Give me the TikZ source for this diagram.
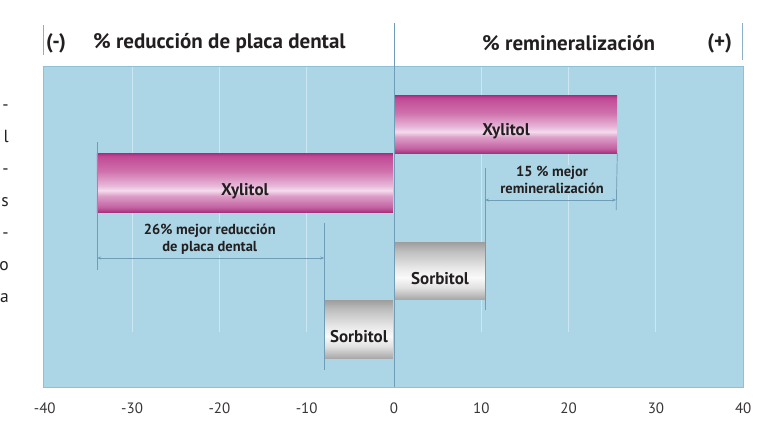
\documentclass[tikz,border=0pt]{standalone}
\usepackage{fontspec}
\setmainfont{PT Sans}
\usetikzlibrary{arrows.meta, positioning, calc}
\definecolor{chartblue}{HTML}{ACD5E6}
\definecolor{chartedge}{HTML}{8EC0D8}
\definecolor{gridwhite}{HTML}{CCE7F2}
\definecolor{axisblue}{HTML}{6F9CB6}
\definecolor{inkblack}{HTML}{231F20}
% magenta bar, bottom to top
\definecolor{xylA}{HTML}{A8307E}
\definecolor{xylB}{HTML}{C260A0}
\definecolor{xylC}{HTML}{DDA0C8}
\definecolor{xylD}{HTML}{F5DCEE}
\definecolor{xylE}{HTML}{E8B8DA}
\definecolor{xylF}{HTML}{CF70AC}
\definecolor{xylG}{HTML}{C04A95}
\definecolor{xylH}{HTML}{AE2A80}
% grey bar, bottom to top
\definecolor{sorbA}{HTML}{A8A8A8}
\definecolor{sorbB}{HTML}{E0E0E0}
\definecolor{sorbC}{HTML}{FAFAFA}
\definecolor{sorbD}{HTML}{E8E8E8}
\definecolor{sorbE}{HTML}{BDBDBD}
\definecolor{sorbF}{HTML}{9E9E9E}
\pgfdeclareverticalshading{xylshade}{100bp}{color(0bp)=(xylA); color(25bp)=(xylA); color(29bp)=(xylB); color(39bp)=(xylC); color(43.5bp)=(xylD); color(47.5bp)=(xylE); color(60bp)=(xylF); color(72.5bp)=(xylG); color(75bp)=(xylH); color(100bp)=(xylH)}
\pgfdeclareverticalshading{sorbshade}{100bp}{color(0bp)=(sorbA); color(25bp)=(sorbA); color(35bp)=(sorbB); color(44bp)=(sorbC); color(52.5bp)=(sorbD); color(67.5bp)=(sorbE); color(75bp)=(sorbF); color(100bp)=(sorbF)}

\begin{document}
\begin{tikzpicture}[
  x=8.73pt, y=-1pt,
  headtext/.style={text=inkblack, inner sep=0pt, font=\bfseries\fontsize{21}{24}\selectfont},
  xylbar/.style={rectangle, inner sep=0pt, draw=none, shading=xylshade},
  sorbbar/.style={rectangle, inner sep=0pt, draw=none, shading=sorbshade},
  barlbl/.style={text=inkblack, inner sep=0pt, font=\bfseries\fontsize{17}{19}\selectfont},
  dimlbl/.style={text=inkblack, fill=chartblue, inner sep=1pt, align=center, font=\bfseries\fontsize{14.5}{16.5}\selectfont},
  ticklabel/.style={text=inkblack!90, inner sep=0pt, font=\fontsize{15}{17}\selectfont},
  fragtext/.style={text=inkblack, inner sep=0pt, anchor=mid east, font=\fontsize{17.5}{20}\selectfont},
  gridline/.style={draw=gridwhite, line width=1pt},
  headline/.style={draw=axisblue!80, line width=0.8pt},
  dimline/.style={draw=axisblue, line width=0.7pt},
  dimarrow/.style={{Stealth[length=4pt,width=3pt]}-{Stealth[length=4pt,width=3pt]}, draw=axisblue, line width=0.6pt}
]
  \useasboundingbox (-45.13,0) rectangle (44.67,443);

  % Cut-off text at the left edge
  \foreach \txt [count=\i] in {-,l,-,s,-,o,a}
    \node[fragtext] (frag\i) at (-44.1,76+32*\i) {\txt};

  % Chart area and grid
  \fill[chartblue, draw=chartedge, line width=0.6pt] (-40.2,66) rectangle (40,387);
  \foreach \gx in {-30,-20,-10,10,20,30}
    \draw[gridline] (\gx,67) -- (\gx,332);

  % Header
  \draw[headline] (-40.2,25) -- (-40.2,55);
  \draw[headline] (39.9,23) -- (39.9,60);
  \node[headtext] (minuslbl) at (-38.7,43) {(-)};
  \node[headtext] (plaquelbl) at (-20,43) {\% reducción de placa dental};
  \node[headtext] (reminlbl) at (20,43) {\% remineralización};
  \node[headtext] (pluslbl) at (37.3,43) {(+)};

  % Bars
  \node[xylbar, anchor=north west, minimum width=222pt, minimum height=58pt] (xylpos) at (0.1,95) {};
  \node[xylbar, anchor=north east, minimum width=296pt, minimum height=59pt] (xylneg) at (-0.1,153) {};
  \node[sorbbar, anchor=north west, minimum width=90pt, minimum height=57pt] (sorbpos) at (0.1,242) {};
  \node[sorbbar, anchor=north east, minimum width=68pt, minimum height=58pt] (sorbneg) at (-0.1,300) {};
  \node[barlbl] (xylposlbl) at ([yshift=-7pt]xylpos.center) {Xylitol};
  \node[barlbl] (xylneglbl) at ([yshift=-8pt]xylneg.center) {Xylitol};
  \node[barlbl] (sorbposlbl) at ([yshift=-8pt]sorbpos.center) {Sorbitol};
  \node[barlbl] (sorbneglbl) at ([yshift=-7pt]sorbneg.center) {Sorbitol};

  % Zero line
  \draw[dimline] (0,23) -- (0,387);

  % Remineralisation difference
  \coordinate (remR) at (25.45,210);
  \coordinate (remLtop) at (10.42,168);
  \coordinate (remLbot) at (10.42,310);
  \coordinate (remAL) at (10.42,200);
  \coordinate (remAR) at (25.45,200);
  \draw[dimline] (xylpos.south east) -- (remR);
  \draw[dimline] (remLtop) -- (remLbot);
  \draw[dimarrow] (remAL) -- (remAR);
  \node[dimlbl] (remlbl) at (18.1,180) {15 \% mejor\\remineralización};

  % Plaque difference
  \coordinate (plqLtop) at (-34,142);
  \coordinate (plqLbot) at (-34,270);
  \coordinate (plqRtop) at (-8,223);
  \coordinate (plqRbot) at (-8,370);
  \coordinate (plqAL) at (-34,258);
  \coordinate (plqAR) at (-8,258);
  \draw[dimline] (plqLtop) -- (plqLbot);
  \draw[dimline] (plqRtop) -- (plqRbot);
  \draw[dimarrow] (plqAL) -- (plqAR);
  \node[dimlbl] (plqlbl) at (-21.1,239) {26\% mejor reducción\\de placa dental};

  % Axis numbers
  \foreach \gx in {-40,-30,-20,-10,0,10,20,30,40}
    \node[ticklabel] (tick\gx) at (\gx,408) {\gx};
\end{tikzpicture}
\end{document}
